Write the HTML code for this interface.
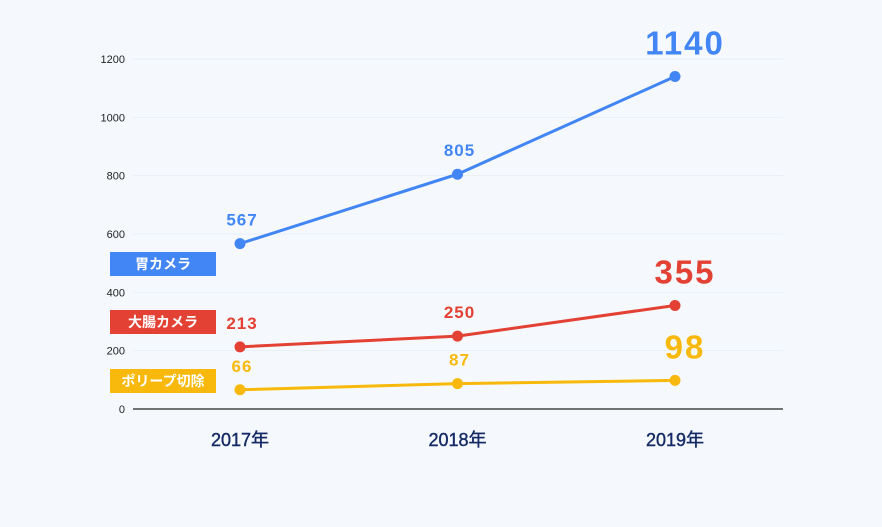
<!DOCTYPE html>
<html><head><meta charset="utf-8"><style>
html,body{margin:0;padding:0;background:#f5f9fd;}
svg{display:block;font-family:"Liberation Sans","Noto Sans CJK JP",sans-serif;}
</style></head><body>
<svg id="chart" width="882" height="527" viewBox="0 0 882 527">
<rect width="882" height="527" fill="#f5f9fd"/>
<g id="grid"></g><g id="series"></g><g id="legend"></g>
</svg>
<script>
const categories=["2017年","2018年","2019年"];
const stomach=[567,805,1140];
const colon=[213,250,355];
const polyp=[66,87,98];
const yTicks=[0,200,400,600,800,1000,1200];
const seriesNames=["胃カメラ","大腸カメラ","ポリープ切除"];
const NS="http://www.w3.org/2000/svg";
function y(v){return 409-v*350/1200;}
function x(i){return 240+i*217.5;}
function mk(tag,attrs,parent,text){const e=document.createElementNS(NS,tag);for(const k in attrs)e.setAttribute(k,attrs[k]);if(text!==undefined)e.textContent=text;parent.appendChild(e);return e;}
const grid=document.getElementById('grid');
yTicks.forEach(t=>{
  if(t>0){const l=mk('line',{x1:133,x2:783,y1:y(t),y2:y(t),stroke:'#e8eef5','stroke-width':1},grid);
  
  }
  const tx=mk('text',{x:125,y:y(t)+4,'text-anchor':'end','font-size':11,fill:'#222'},grid,String(t));
  
  
});
const ax=mk('line',{x1:133,x2:783,y1:409,y2:409,stroke:'#222','stroke-width':1.2},grid);


categories.forEach((c,i)=>{
  const t=mk('text',{x:x(i),y:446,'text-anchor':'middle','font-size':18,fill:'#152b66','stroke':'#152b66','stroke-width':0.4},grid,c);
  
  
});
const series=document.getElementById('series');
const defs=[[stomach,'#4285f4','stomach'],[colon,'#e34133','colon'],[polyp,'#f8b90c','polyp']];
defs.forEach(([vals,col,nm])=>{
  const pl=mk('polyline',{points:vals.map((v,i)=>x(i)+','+y(v)).join(' '),fill:'none',stroke:col,'stroke-width':3},series);
  
  
  vals.forEach((v,i)=>{
    const c=mk('circle',{cx:x(i),cy:y(v),r:5.5,fill:col},series);
    
    
    const big=i===2;
    const t=mk('text',{x:x(i)+(big?10:2),y:y(v)-(big?22:18),'text-anchor':'middle','font-size':big?33:17,'font-weight':'bold','letter-spacing':big?2:1,fill:col},series,String(v));
    
    
  });
});
const legend=document.getElementById('legend');
const lg=[[252,'#4285f4'],[310,'#e34133'],[369,'#f8b90c']];
seriesNames.forEach((n,i)=>{
  const r=mk('rect',{x:110,y:lg[i][0],width:106,height:24,fill:lg[i][1]},legend);
  
  
  const t=mk('text',{x:163,y:lg[i][0]+17,'text-anchor':'middle','font-size':14,'font-weight':'bold',fill:'#fff'},legend,n);
  
  
});
</script>
</body></html>
